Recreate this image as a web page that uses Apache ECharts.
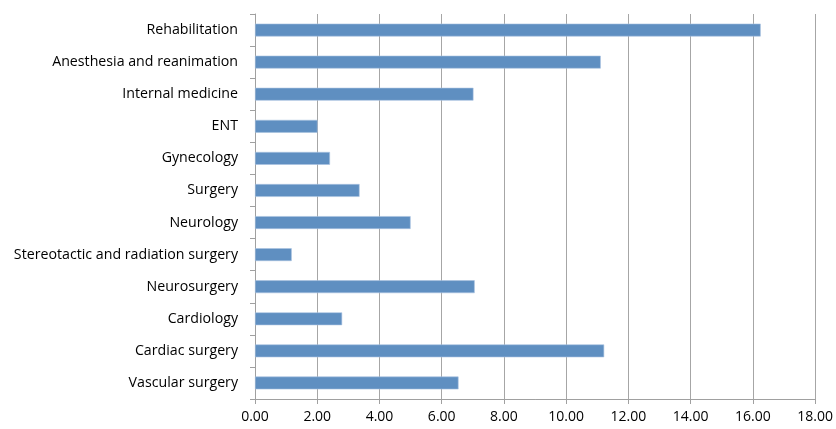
<!DOCTYPE html>
<html><head><meta charset="utf-8">
<script src="https://cdn.jsdelivr.net/npm/echarts@6/dist/echarts.min.js"></script>
<style>html,body{margin:0;padding:0;background:#fff}#c{width:836px;height:429px}</style>
</head><body><div id="c"></div>
<script>
const categories = ["Vascular surgery","Cardiac surgery","Cardiology","Neurosurgery","Stereotactic and radiation surgery","Neurology","Surgery","Gynecology","ENT","Internal medicine","Anesthesia and reanimation","Rehabilitation"];
const values = [6.54, 11.22, 2.80, 7.06, 1.18, 5.00, 3.36, 2.41, 2.01, 7.02, 11.11, 16.25];
const xTicks = { min: 0, max: 18, interval: 2 };
const chart = echarts.init(document.getElementById('c'), null, {renderer:'canvas'});
chart.setOption({
  animation: false,
  grid: { left: 255, right: 16, top: 14, bottom: 30, containLabel: false },
  xAxis: {
    type: 'value', min: xTicks.min, max: xTicks.max, interval: xTicks.interval,
    axisLine: { show: true, lineStyle: { color: '#a0a0a0' } },
    axisTick: { show: true, length: 5, lineStyle: { color: '#a0a0a0' } },
    splitLine: { show: true, lineStyle: { color: '#a6a6a6', width: 1 } },
    axisLabel: { formatter: v => v.toFixed(2), color: '#000', fontFamily: 'Open Sans', fontSize: 14, margin: 11 }
  },
  yAxis: {
    type: 'category', data: categories,
    axisLine: { show: true, lineStyle: { color: '#a0a0a0' } },
    axisTick: { show: true, length: 5, inside: false, lineStyle: { color: '#a0a0a0' } },
    axisLabel: { color: '#000', fontFamily: 'Open Sans', fontSize: 14.2, margin: 17 }
  },
  series: [{
    type: 'bar', data: values, barCategoryGap: '60%',
    itemStyle: { color: '#5f8fc1', borderColor: '#a9c2e0', borderWidth: 0.6 }
  }]
});
</script></body></html>
